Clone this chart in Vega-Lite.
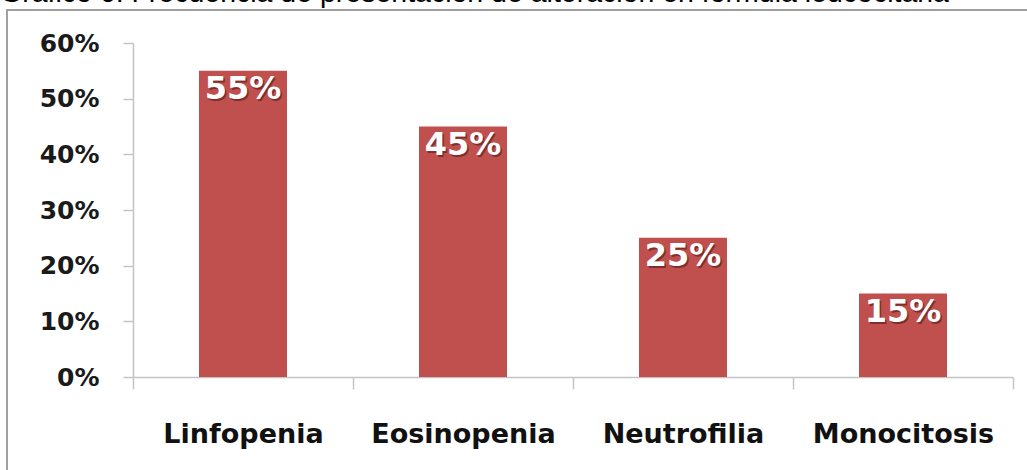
{
  "$schema": "https://vega.github.io/schema/vega-lite/v6.json",
  "width": 1060,
  "height": 500,
  "autosize": {"type": "none"},
  "padding": {"left": 7, "top": 10, "right": -40, "bottom": -40},
  "background": "white",
  "title": {
    "text": "Gráfico 6. Frecuencia de presentación de alteración en fórmula leucocitaria",
    "orient": "top",
    "anchor": "start",
    "frame": "group",
    "offset": 3,
    "dx": -7,
    "font": "Liberation Sans",
    "fontSize": 28.5,
    "fontWeight": "normal",
    "color": "#000000"
  },
  "data": {
    "values": [
      {"alteracion": "Linfopenia", "frecuencia": 0.55},
      {"alteracion": "Eosinopenia", "frecuencia": 0.45},
      {"alteracion": "Neutrofilia", "frecuencia": 0.25},
      {"alteracion": "Monocitosis", "frecuencia": 0.15}
    ]
  },
  "encoding": {
    "x": {
      "field": "alteracion",
      "type": "nominal",
      "sort": null,
      "scale": {"range": [126, 1006], "paddingInner": 0, "paddingOuter": 0},
      "axis": {
        "orient": "bottom",
        "offset": -133,
        "title": null,
        "labelAngle": 0,
        "tickBand": "extent",
        "tickSize": 12,
        "tickColor": "#c4c4c4",
        "tickWidth": 1.5,
        "domainColor": "#c4c4c4",
        "domainWidth": 1.5,
        "labelPadding": 32,
        "labelFont": "DejaVu Sans",
        "labelFontWeight": "bold",
        "labelFontSize": 27,
        "labelColor": "#111111",
        "labelLimit": 400
      }
    },
    "y": {
      "field": "frecuencia",
      "type": "quantitative",
      "scale": {"domain": [0, 0.6], "range": [367, 33], "nice": false, "zero": true},
      "axis": {
        "orient": "left",
        "offset": -126,
        "title": null,
        "grid": false,
        "format": ".0%",
        "values": [0, 0.1, 0.2, 0.3, 0.4, 0.5, 0.6],
        "tickSize": 10,
        "tickColor": "#c4c4c4",
        "tickWidth": 1.5,
        "domainColor": "#c4c4c4",
        "domainWidth": 1.5,
        "labelPadding": 24,
        "labelFont": "DejaVu Sans",
        "labelFontWeight": "bold",
        "labelFontSize": 25,
        "labelColor": "#1a1a1a"
      }
    }
  },
  "layer": [
    {"mark": {"type": "bar", "color": "#C0504D", "width": {"band": 0.4}}},
    {
      "mark": {
        "type": "text",
        "baseline": "alphabetic",
        "align": "center",
        "dx": 1.5,
        "dy": 30,
        "font": "DejaVu Sans",
        "fontWeight": "bold",
        "fontSize": 32,
        "color": "#4a1412",
        "opacity": 0.55
      },
      "encoding": {"text": {"field": "frecuencia", "type": "quantitative", "format": ".0%"}}
    },
    {
      "mark": {
        "type": "text",
        "baseline": "alphabetic",
        "align": "center",
        "dy": 28.5,
        "font": "DejaVu Sans",
        "fontWeight": "bold",
        "fontSize": 32,
        "color": "#ffffff"
      },
      "encoding": {"text": {"field": "frecuencia", "type": "quantitative", "format": ".0%"}}
    }
  ],
  "config": {
    "view": {"stroke": "#a0a0a0", "strokeWidth": 2}
  }
}
